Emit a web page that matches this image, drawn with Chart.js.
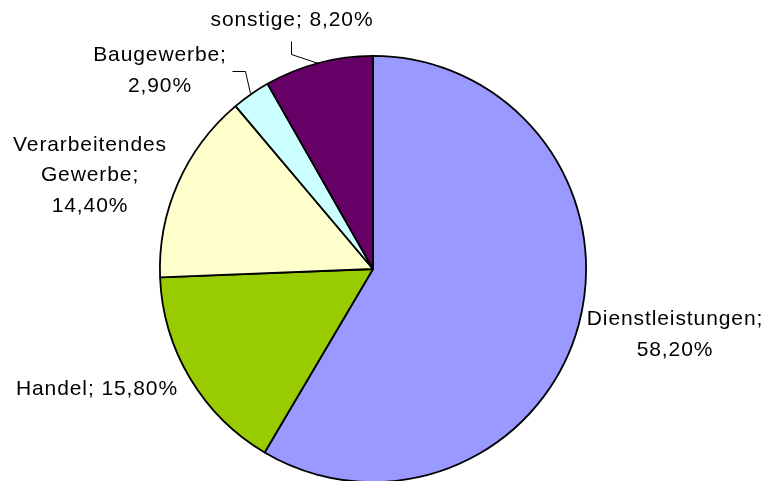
<!DOCTYPE html>
<html><head><meta charset="utf-8">
<script src="https://cdn.jsdelivr.net/npm/chart.js@4/dist/chart.umd.min.js"></script>
<style>html,body{margin:0;padding:0;background:#fff;overflow:hidden;width:771px;height:481px}canvas{display:block}</style>
</head><body>
<canvas id="c" width="771" height="490"></canvas>
<script>
const categories = ["Dienstleistungen", "Handel", "Verarbeitendes Gewerbe", "Baugewerbe", "sonstige"];
const shares = [58.2, 15.8, 14.4, 2.9, 8.2];
const valueLabels = ["58,20%", "15,80%", "14,40%", "2,90%", "8,20%"];
const colors = ["#9999FF", "#99CC00", "#FFFFCC", "#CCFFFF", "#660066"];

// label layout (text lines and anchor positions)
const labelLayout = [
  {lines: ["Dienstleistungen;", "58,20%"], x: 675, y: 319, lh: 31},
  {lines: ["Handel; 15,80%"], x: 97, y: 389, lh: 31},
  {lines: ["Verarbeitendes", "Gewerbe;", "14,40%"], x: 90, y: 145, lh: 30.5},
  {lines: ["Baugewerbe;", "2,90%"], x: 160, y: 55, lh: 31},
  {lines: ["sonstige; 8,20%"], x: 292, y: 20, lh: 31}
];
const leaders = {
  3: [[232, 71], [245, 71], [250, 93]],
  4: [[291, 41], [291, 54], [318, 63]]
};

const labelPlugin = {
  id: 'pieLabels',
  afterDatasetsDraw(chart) {
    const ctx = chart.ctx;
    ctx.save();
    ctx.strokeStyle = '#000';
    ctx.lineWidth = 1;
    Object.values(leaders).forEach(pts => {
      ctx.beginPath();
      ctx.moveTo(pts[0][0] + 0.5, pts[0][1] + 0.5);
      for (let i = 1; i < pts.length; i++) ctx.lineTo(pts[i][0] + 0.5, pts[i][1] + 0.5);
      ctx.stroke();
    });
    ctx.fillStyle = '#000';
    ctx.font = '21px "Liberation Sans", Arial, sans-serif';
    try { ctx.letterSpacing = '0.9px'; } catch (e) {}
    ctx.textAlign = 'center';
    ctx.textBaseline = 'middle';
    labelLayout.forEach(l => {
      l.lines.forEach((t, i) => ctx.fillText(t, l.x, l.y + i * l.lh));
    });
    ctx.restore();
  }
};

new Chart(document.getElementById('c'), {
  type: 'pie',
  data: {
    labels: categories,
    datasets: [{
      data: shares,
      backgroundColor: colors,
      borderColor: '#000',
      borderWidth: 1.8
    }]
  },
  options: {
    responsive: false,
    animation: false,
    layout: {padding: {left: 159, right: 184, top: 55, bottom: 7}},
    plugins: {legend: {display: false}, tooltip: {enabled: false}}
  },
  plugins: [labelPlugin]
});
</script>
</body></html>
